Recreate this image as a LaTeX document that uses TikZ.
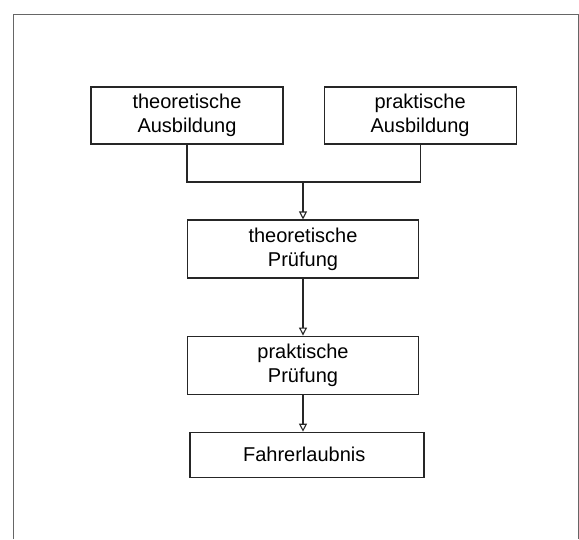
\documentclass[tikz,border=0pt]{standalone}
\usepackage{fontspec}
\setmainfont{Liberation Sans}
\usetikzlibrary{positioning,arrows.meta}
\begin{document}
\begin{tikzpicture}[x=1pt, y=-1pt,
	stage/.style = { draw=black!85, line width=1.1pt, align=center,
		font=\fontsize{20}{24}\selectfont, inner sep=0pt },
	flow/.style = { draw=black!85, line width=1.1pt },
	flowarrow/.style = { flow, -{Triangle[open, length=8pt, width=8pt]} }]
	\useasboundingbox (0,0) rectangle (579,539);
	% frame
	\draw [black!60, line width=1pt] (13,539) |- (578,14) -- (578,539);
	% education
	\node [stage, minimum width=192pt, minimum height=57pt] (ta) at (187,115.5)
		{ theoretische\\Ausbildung };
	\node [stage, minimum width=192pt, minimum height=57pt, right=40pt of ta] (pa)
		{ praktische\\Ausbildung };
	% exams and licence
	\node [stage, minimum width=231pt, minimum height=58pt] (tp) at (303,249)
		{ theoretische\\Prüfung };
	\node [stage, minimum width=231pt, minimum height=58pt, below=57pt of tp] (pp)
		{ praktische\\Prüfung };
	\node [stage, minimum width=234pt, minimum height=45pt, below=37pt of pp, xshift=4pt] (fe)
		{ Fahrerlaubnis };
	\coordinate (join) at (tp.north |- 0,182);
	\draw [flow] (ta.south) |- (join) -| (pa.south);
	\draw [flowarrow] (join) -- (tp.north);
	\draw [flowarrow] (tp.south) -- (pp.north);
	\draw [flowarrow] (pp.south) -- (pp.south |- fe.north);
\end{tikzpicture}
\end{document}
